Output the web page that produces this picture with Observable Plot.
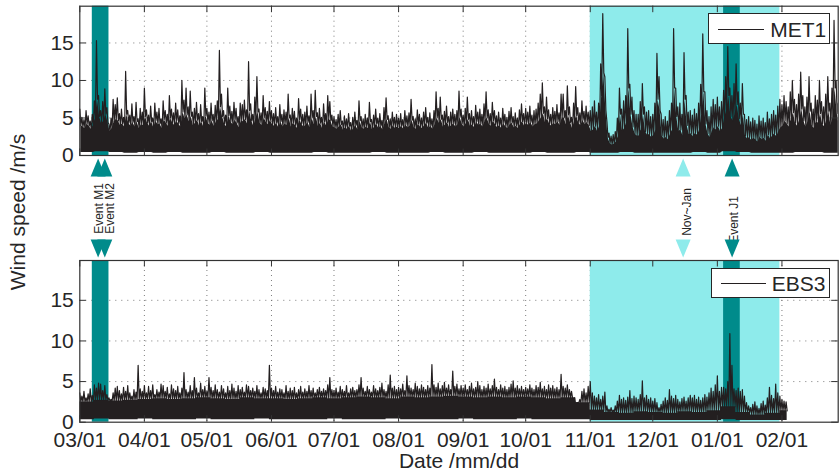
<!DOCTYPE html>
<html>
<head>
<meta charset="utf-8">
<script src="https://cdn.jsdelivr.net/npm/d3@7"></script>
<script src="https://cdn.jsdelivr.net/npm/@observablehq/plot@0.6"></script>
<style>
html, body { margin: 0; padding: 0; background: #fff; }
#wrap { position: relative; width: 839px; height: 473px; overflow: hidden; background: #fff;
  font-family: "Liberation Sans", Arial, Helvetica, sans-serif; color: #262626; }
.panel { position: absolute; left: 0; }
.legend { position: absolute; background: #fff; border: 1.3px solid #262626; box-sizing: border-box; }
.legend .ln { position: absolute; height: 0; border-top: 1.2px solid #231f20; }
.legend .tx { position: absolute; font-size: 21px; line-height: 1; top: 50%; transform: translateY(-50%); }
#ylab { position: absolute; left: 18px; top: 211.5px; transform: translate(-50%, -50%) rotate(-90deg);
  font-size: 21px; white-space: nowrap; }
</style>
</head>
<body>
<div id="wrap">
  <div id="top" class="panel" style="top:0"></div>
  <div id="bottom" class="panel" style="top:228px"></div>
  <div id="ylab">Wind speed /m/s</div>
  <div class="legend" style="left:708.3px;top:13.3px;width:121.7px;height:31px">
    <div class="ln" style="left:9px;top:14.5px;width:46px"></div>
    <div class="tx" style="left:61px">MET1</div>
  </div>
  <div class="legend" style="left:710.7px;top:267.7px;width:119.3px;height:30.6px">
    <div class="ln" style="left:9px;top:14.3px;width:45px"></div>
    <div class="tx" style="left:60px">EBS3</div>
  </div>
</div>
<script>
// ---------------- data ----------------
const startDate = "2013-03-01";
const endDate = "2014-02-28";
const monthTicks = ["2013-03-01","2013-04-01","2013-05-01","2013-06-01","2013-07-01","2013-08-01",
  "2013-09-01","2013-10-01","2013-11-01","2013-12-01","2014-01-01","2014-02-01"];
const yTicks = [0, 5, 10, 15];

// shaded periods
const seasonPeriod = [{from: "2013-11-01", to: "2014-01-31"}];
const eventPeriods = [{from: "2013-03-07", to: "2013-03-15"}, {from: "2014-01-04", to: "2014-01-12"}];

// event markers
const eventNames = ["Event M1", "Event M2", "Nov~Jan", "Event J1"];
const eventDates = ["2013-03-09T19:00Z", "2013-03-13T00:00Z", "2013-12-15T14:00Z", "2014-01-08T02:00Z"];
const eventKinds = ["event", "event", "season", "event"];

// MET1 daily maximum wind speed (m/s), from 03/01
const met1Mar = [6.2,5.1,4.8,6.0,5.3,4.6,5.5,7.3,15.3,8.0,6.0,7.2,8.9,6.4,4.2,5.0,7.5,6.8,7.7,5.6,6.2,5.1,11.2,6.0,5.4,6.9,5.2,7.1,4.9,6.3,5.8];
const met1Apr = [9.0,6.1,5.4,6.6,5.0,7.0,5.8,6.3,4.9,7.3,6.0,5.5,8.0,6.2,5.7,7.0,6.1,5.3,10.0,7.4,9.0,6.5,8.6,5.8,6.3,7.1,5.6,6.8,5.2,9.0];
const met1May = [6.3,5.8,7.0,5.5,6.7,7.3,14.0,8.2,6.0,5.4,9.0,6.6,5.9,7.1,6.3,5.2,7.0,6.8,7.4,6.1,12.5,6.9,5.5,7.8,10.5,6.2,5.7,8.0,6.4,5.9,7.2];
const met1Jun = [6.0,5.6,6.4,5.2,6.8,5.5,6.1,5.8,8.2,5.4,6.3,5.9,5.0,7.6,6.2,5.5,5.8,6.6,5.3,8.2,6.0,8.7,5.7,6.3,5.1,6.9,5.6,8.0,7.2,5.4];
const met1Jul = [5.2,4.8,5.5,6.0,4.6,5.3,4.9,5.6,4.4,5.1,5.8,4.7,7.3,5.2,4.9,5.5,5.0,7.1,4.8,5.4,6.2,5.0,5.6,4.7,6.4,7.7,5.3,4.9,5.8,5.1,5.5];
const met1Aug = [5.0,5.6,4.8,6.0,5.3,5.7,7.5,5.2,4.9,6.1,5.5,5.0,5.8,6.4,5.1,5.7,4.9,6.0,8.5,6.3,7.8,5.4,5.9,6.6,5.2,5.8,6.2,5.5,6.0,8.6,6.2];
const met1Sep = [5.4,6.3,7.8,5.6,6.0,5.2,6.7,5.8,6.2,5.5,6.9,8.5,6.1,5.6,7.1,6.0,5.3,5.8,5.0,6.3,5.5,5.1,5.9,6.4,5.2,5.7,5.0,6.1,6.9,5.6];
const met1Oct = [6.3,5.8,6.6,5.4,6.0,6.2,7.0,8.2,9.7,6.5,7.8,6.1,5.5,6.4,5.9,6.8,5.7,8.2,8.2,6.0,9.3,6.5,5.1,7.0,9.2,6.4,5.7,7.3,5.9,6.6,5.8];
const met1Nov = [6.0,6.5,7.3,5.8,7.0,12.2,18.9,10.5,4.5,3.0,2.6,2.8,3.2,5.0,9.0,6.2,7.3,8.0,16.9,9.5,7.8,6.0,5.5,5.5,7.2,9.6,6.5,5.8,6.0,5.2];
const met1Dec = [5.5,7.0,13.6,10.5,5.5,4.8,5.2,4.6,6.0,7.0,16.9,9.0,6.5,7.0,5.5,13.7,8.0,5.8,6.0,5.4,6.2,5.6,7.0,9.5,16.2,8.5,6.0,5.2,6.5,7.5,6.8];
const met1Jan = [7.8,6.5,7.2,8.7,10.5,14.5,9.0,8.0,9.6,12.2,8.5,7.0,9.6,5.5,4.8,5.2,4.5,5.0,4.7,4.2,5.3,4.6,5.0,4.4,5.8,4.9,5.5,6.0,5.4,6.6,7.5];
const met1Feb = [6.8,8.0,7.2,6.5,8.5,10.0,7.5,6.8,8.2,11.1,8.0,6.5,7.8,10.5,7.0,6.2,8.0,7.4,10.0,7.2,6.5,8.2,10.5,7.0,9.0,18.0,10.0,7.0];
// MET1 daily level of the dense (solid) part of the trace
const met1BandMar = [4.0,3.8,3.6,4.2,3.9,3.5,4.0,5.0,7.5,5.2,4.2,4.6,5.5,4.4,3.2,3.6,4.5,4.8,4.6,4.0,4.2,3.8,5.5,4.3,3.9,4.4,3.8,4.5,3.6,4.1,4.0];
const met1BandApr = [5.2,4.3,3.9,4.5,3.7,4.6,4.1,4.2,3.6,4.8,4.3,3.9,5.0,4.4,4.0,4.6,4.2,3.8,5.8,4.9,5.4,4.5,5.2,4.0,4.3,4.7,3.9,4.5,3.8,5.3];
const met1BandMay = [4.4,4.0,4.6,3.9,4.5,4.8,6.5,5.2,4.2,3.8,5.3,4.5,4.1,4.7,4.3,3.7,4.6,4.5,4.8,4.2,6.0,4.6,3.9,4.9,5.8,4.3,4.0,5.0,4.4,4.1,4.7];
const met1BandJun = [4.1,3.9,4.3,3.7,4.5,3.8,4.2,4.0,5.0,3.8,4.3,4.0,3.6,4.8,4.2,3.8,4.0,4.4,3.7,5.0,4.1,5.2,3.9,4.3,3.6,4.5,3.9,4.9,4.6,3.8];
const met1BandJul = [3.7,3.5,3.8,4.1,3.4,3.7,3.5,3.9,3.2,3.6,4.0,3.4,4.6,3.7,3.5,3.8,3.6,4.5,3.4,3.8,4.2,3.6,3.9,3.4,4.3,4.8,3.7,3.5,4.0,3.6,3.8];
const met1BandAug = [3.6,3.9,3.5,4.1,3.7,3.9,4.7,3.7,3.5,4.2,3.8,3.6,4.0,4.3,3.6,3.9,3.5,4.1,5.0,4.3,4.8,3.8,4.1,4.4,3.7,4.0,4.2,3.8,4.1,5.1,4.2];
const met1BandSep = [3.8,4.3,4.8,3.9,4.1,3.7,4.5,4.0,4.2,3.8,4.6,5.0,4.2,3.9,4.6,4.1,3.7,4.0,3.6,4.3,3.8,3.6,4.1,4.3,3.7,3.9,3.6,4.2,4.5,3.9];
const met1BandOct = [4.3,4.0,4.4,3.8,4.1,4.2,4.6,5.0,5.6,4.4,4.9,4.2,3.9,4.3,4.1,4.5,4.0,5.0,5.0,4.1,5.4,4.4,3.6,4.6,5.3,4.3,4.0,4.7,4.1,4.4,4.0];
const met1BandNov = [3.2,3.4,3.9,3.2,3.9,8.0,11.0,6.0,2.4,1.6,1.4,1.5,1.8,2.6,5.5,3.2,3.6,4.4,9.0,5.5,3.8,2.9,2.6,2.6,3.6,5.5,3.2,2.7,2.8,2.4];
const met1BandDec = [2.7,3.4,7.5,6.0,2.6,2.2,2.4,2.1,2.9,3.4,9.0,5.2,3.2,3.4,2.6,7.5,4.0,2.8,2.9,2.5,3.0,2.7,3.4,5.5,8.5,4.2,2.9,2.4,3.2,3.7,3.4];
const met1BandJan = [3.9,3.2,3.6,5.0,6.0,8.0,5.2,4.6,5.5,6.8,4.9,4.0,5.5,2.6,2.2,2.4,2.0,2.3,2.1,1.8,2.5,2.1,2.3,1.9,2.8,2.2,2.6,2.9,2.5,3.2,3.7];
const met1BandFeb = [3.9,4.6,4.2,3.8,4.9,5.7,4.3,3.9,4.7,6.2,4.6,3.8,4.5,5.9,4.0,3.6,4.6,4.3,5.6,4.2,3.8,4.7,5.9,4.0,5.1,9.0,5.6,4.0];
// MET1 weekly minimum
const met1Min = [0.4,0.5,0.4,0.3,0.4,0.3,0.4,0.3,0.3,0.4, 0.3,0.3,0.4,0.3,0.3,0.3,0.4,0.3,0.3,0.3,
  0.4,0.3,0.3,0.3,0.4,0.3,0.3,0.4,0.3,0.3, 0.3,0.4,0.3,0.3,0.4,0.3,0.3,0.4,0.3,0.3,
  0.3,0.3,0.4,0.3,0.5,0.4,0.3,0.3,0.3,0.4, 0.4,0.3,0.3];

// EBS3 daily maximum wind speed (m/s), from 03/01
const ebs3Mar = [3.6,3.2,3.8,3.0,3.5,4.1,3.3,4.6,4.2,4.8,4.7,3.9,4.5,3.4,3.0,2.8,3.6,4.2,4.4,3.9,3.5,4.3,3.8,4.5,3.6,3.2,4.0,3.7,7.0,4.1,3.8];
const ebs3Apr = [4.5,3.6,4.4,3.9,4.6,3.4,4.0,3.7,4.7,4.5,3.8,4.3,3.5,4.6,4.1,3.9,4.4,3.6,4.2,6.1,4.0,3.7,4.5,3.9,5.5,4.2,3.6,4.8,4.0,4.4];
const ebs3May = [3.8,5.5,4.3,3.9,4.6,4.0,3.7,4.5,4.1,3.6,4.4,3.9,4.7,4.2,3.8,4.5,4.0,4.3,3.7,4.6,4.4,3.9,4.2,3.8,4.5,4.0,3.6,4.3,4.1,3.9,7.0];
const ebs3Jun = [4.2,3.9,4.4,3.7,4.1,4.0,3.6,4.5,3.8,4.2,3.9,4.3,3.6,4.0,4.4,3.7,4.1,3.8,4.5,3.9,4.2,3.6,4.0,4.3,3.8,4.1,3.9,4.6,5.5,4.0];
const ebs3Jul = [3.9,4.2,3.7,4.4,4.0,3.8,4.5,3.6,4.1,4.3,3.9,4.0,4.6,5.5,4.2,3.8,4.4,4.0,3.7,4.5,4.1,3.9,4.3,4.8,4.0,3.8,4.6,5.8,4.2,4.4,4.0];
const ebs3Aug = [4.3,4.1,4.7,3.9,5.7,4.5,4.2,4.0,4.8,4.4,4.1,4.6,4.3,4.0,4.5,4.2,7.1,4.6,4.3,4.8,4.1,4.5,4.9,4.2,4.6,4.0,6.3,4.4,4.7,4.1,4.5];
const ebs3Sep = [4.2,4.6,4.0,4.4,4.8,4.1,4.3,5.0,4.5,4.0,4.4,4.2,4.7,4.1,4.5,5.3,4.3,4.0,4.6,4.2,4.4,4.0,4.3,4.7,5.1,4.2,4.5,4.1,4.4,4.0];
const ebs3Oct = [4.3,4.1,4.6,4.2,4.0,4.5,4.3,4.9,4.1,4.4,4.0,4.6,4.2,4.5,4.1,4.3,4.0,5.9,4.4,4.2,4.6,4.0,3.8,2.6,2.2,2.4,2.8,3.8,4.1,3.6,4.4];
const ebs3Nov = [5.0,3.6,3.2,3.0,3.4,2.8,3.2,3.7,2.0,1.6,1.8,1.5,2.0,2.6,3.3,2.8,3.0,2.7,3.1,3.9,2.9,3.2,3.0,2.8,3.4,5.1,3.0,3.3,2.8,3.0];
const ebs3Dec = [2.6,2.9,2.4,1.8,2.2,2.6,3.0,2.7,4.0,3.2,2.9,3.3,2.8,2.5,2.9,3.1,2.6,3.0,3.3,3.0,3.3,2.8,3.1,2.7,3.0,3.4,3.1,3.6,4.2,3.8,4.6];
const ebs3Jan = [5.7,3.8,4.3,4.3,4.1,5.0,10.9,7.0,4.1,3.9,4.2,3.8,4.0,3.2,2.4,2.0,1.8,2.2,2.5,2.0,1.7,2.3,2.6,2.1,3.0,4.3,3.3,2.9,4.7,3.6,3.2];
const ebs3Feb = [2.8,2.6,2.5];
// EBS3 weekly level of the dense part, and weekly minimum
const ebs3Band = [2.5,2.7,2.6,2.7,2.8,2.9,2.8,2.9,3.0,2.9, 2.8,3.0,2.9,2.9,2.8,2.9,3.0,2.9,3.0,3.1,
  3.0,2.9,3.1,3.0,3.1,3.2,3.1,3.0,3.1,3.0, 3.1,3.0,2.9,3.0,2.4,1.5,1.2,1.1,1.3,1.2,
  1.1,1.3,1.2,1.4,1.9,1.2,0.9,1.1,1.4];
const ebs3Min = [0.3,0.4,0.3,0.3,0.4,0.3,0.3,0.3,0.4,0.3, 0.3,0.3,0.4,0.3,0.3,0.3,0.3,0.4,0.3,0.3,
  0.3,0.4,0.3,0.3,0.3,0.3,0.4,0.3,0.3,0.3, 0.4,0.3,0.3,0.3,0.3,0.2,0.2,0.2,0.2,0.2,
  0.2,0.2,0.2,0.2,0.3,0.2,0.2,0.2,0.2];

// ---------------- build tables ----------------
const t0 = new Date(startDate + "T00:00Z");
const t1 = new Date(endDate + "T00:00Z");
const at = d => new Date(t0.getTime() + d * 864e5);
const parse = s => new Date(s.length === 10 ? s + "T00:00Z" : s);
const months = monthTicks.map(parse);
const periods = arr => arr.map(p => ({from: parse(p.from), to: parse(p.to)}));
const season = periods(seasonPeriod);
const evPer = periods(eventPeriods);
const events = eventNames.map((n, i) => ({name: n, date: parse(eventDates[i]), kind: eventKinds[i]}));

const met1Max = [].concat(met1Mar, met1Apr, met1May, met1Jun, met1Jul, met1Aug, met1Sep, met1Oct, met1Nov, met1Dec, met1Jan, met1Feb);
const met1Band = [].concat(met1BandMar, met1BandApr, met1BandMay, met1BandJun, met1BandJul, met1BandAug,
  met1BandSep, met1BandOct, met1BandNov, met1BandDec, met1BandJan, met1BandFeb);
const ebs3Max = [].concat(ebs3Mar, ebs3Apr, ebs3May, ebs3Jun, ebs3Jul, ebs3Aug, ebs3Sep, ebs3Oct, ebs3Nov, ebs3Dec, ebs3Jan, ebs3Feb);

// trace: daily peaks joined through the dense level; core: the dense level filled down to the minimum
function trace(max, band, step) {
  const pts = [];
  max.forEach((v, i) => {
    pts.push({t: at(i), v});
    pts.push({t: at(i + 0.5), v: band[Math.floor(i / step)]});
  });
  return pts;
}
function core(band, step, low, n) {
  const pts = band.map((h, k) => ({t: at(step === 1 ? k + 0.5 : step * k), hi: h, lo: low[Math.floor(k * step / 7)]}));
  if (step > 1) pts.push({t: at(n - 0.5), hi: band[band.length - 1], lo: low[low.length - 1]});
  return pts;
}

// ---------------- styles ----------------
const TEAL = "#008b8b", CYAN = "#8eebeb", INK = "#231f20", AXIS = "#333333", GRID = "#6e6e6e";
const upTri = {draw(c) { c.moveTo(0, -9); c.lineTo(7.5, 9); c.lineTo(-7.5, 9); c.closePath(); }};
const downTri = {draw(c) { c.moveTo(0, 9); c.lineTo(7.5, -9); c.lineTo(-7.5, -9); c.closePath(); }};
const W = 839, ML = 79.3, MR = 1.3, TICK = 6.5;
const style = {fontFamily: '"Liberation Sans", Arial, Helvetica, sans-serif', fontSize: "21px",
  color: "#262626", background: "transparent", overflow: "visible"};

function panelMarks(series, frameH) {
  const frameW = W - ML - MR;
  return [
    Plot.ruleY(yTicks.filter(v => v > 0), {y: d => d, stroke: GRID, strokeWidth: 0.9, strokeDasharray: "1,5"}),
    Plot.ruleX(months.slice(1), {x: d => d, stroke: GRID, strokeWidth: 0.9, strokeDasharray: "1,4"}),
    Plot.rect(season, {x1: "from", x2: "to", fill: CYAN}),
    Plot.rect(evPer, {x1: "from", x2: "to", fill: TEAL}),
    Plot.areaY(series.core, {x: "t", y1: "lo", y2: "hi", fill: INK, curve: series.curve, clip: true}),
    Plot.line(series.trace, {x: "t", y: "v", stroke: INK, strokeWidth: 1.2, clip: true}),
    Plot.tickY(yTicks, {y: d => d, stroke: AXIS, insetRight: frameW - TICK}),
    Plot.tickY(yTicks, {y: d => d, stroke: AXIS, insetLeft: frameW - TICK}),
    Plot.tickX(months, {x: d => d, stroke: AXIS, insetBottom: frameH - TICK}),
    Plot.tickX(months, {x: d => d, stroke: AXIS, insetTop: frameH - TICK}),
    Plot.frame({stroke: AXIS, strokeWidth: 1.2})
  ];
}
function label(name, dx, dy) {
  return Plot.text(events.filter(e => e.name === name), {x: "date", text: "name", frameAnchor: "bottom",
    dx, dy, rotate: -90, fontSize: 12, fill: "#262626", textAnchor: "middle", lineAnchor: "middle"});
}

// ---------------- top panel (MET1) ----------------
const topH = 250, topMT = 5.7, topMB = 95;
const topPlot = Plot.plot({
  width: W, height: topH,
  marginLeft: ML, marginRight: MR, marginTop: topMT, marginBottom: topMB,
  style,
  x: {type: "utc", domain: [t0, t1], axis: null},
  y: {domain: [0, 19.9], ticks: yTicks, tickSize: 0, tickPadding: 6, label: null},
  marks: [
    ...panelMarks({core: core(met1Band, 1, met1Min, met1Max.length), trace: trace(met1Max, met1Band, 1), curve: "linear"},
      topH - topMT - topMB),
    Plot.dot(events.filter(e => e.kind === "event"), {x: "date", frameAnchor: "bottom", dy: 12, symbol: upTri, fill: TEAL, stroke: "none"}),
    Plot.dot(events.filter(e => e.kind === "season"), {x: "date", frameAnchor: "bottom", dy: 12, symbol: upTri, fill: CYAN, stroke: "none"}),
    label("Event M1", 1.5, 53),
    label("Event M2", 5.3, 53),
    label("Nov~Jan", 4, 56.5),
    label("Event J1", 2.3, 64)
  ]
});
document.getElementById("top").appendChild(topPlot);

// ---------------- bottom panel (EBS3) ----------------
const botH = 245, botMT = 32, botMB = 51.3;
const botPlot = Plot.plot({
  width: W, height: botH,
  marginLeft: ML, marginRight: MR, marginTop: botMT, marginBottom: botMB,
  style,
  x: {type: "utc", domain: [t0, t1], ticks: months, tickFormat: d3.utcFormat("%m/%d"), tickSize: 0, tickPadding: 10, label: null},
  y: {domain: [0, 19.9], ticks: yTicks, tickSize: 0, tickPadding: 6, label: null},
  marks: [
    ...panelMarks({core: core(ebs3Band, 7, ebs3Min, ebs3Max.length), trace: trace(ebs3Max, ebs3Band, 7), curve: "step-after"},
      botH - botMT - botMB),
    Plot.dot(events.filter(e => e.kind === "event"), {x: "date", frameAnchor: "top", dy: -12, symbol: downTri, fill: TEAL, stroke: "none"}),
    Plot.dot(events.filter(e => e.kind === "season"), {x: "date", frameAnchor: "top", dy: -12, symbol: downTri, fill: CYAN, stroke: "none"}),
    Plot.text(["Date /mm/dd"], {frameAnchor: "bottom", dy: 39.3, lineAnchor: "middle", fontSize: 21, fill: "#262626"})
  ]
});
document.getElementById("bottom").appendChild(botPlot);
</script>
</body>
</html>
